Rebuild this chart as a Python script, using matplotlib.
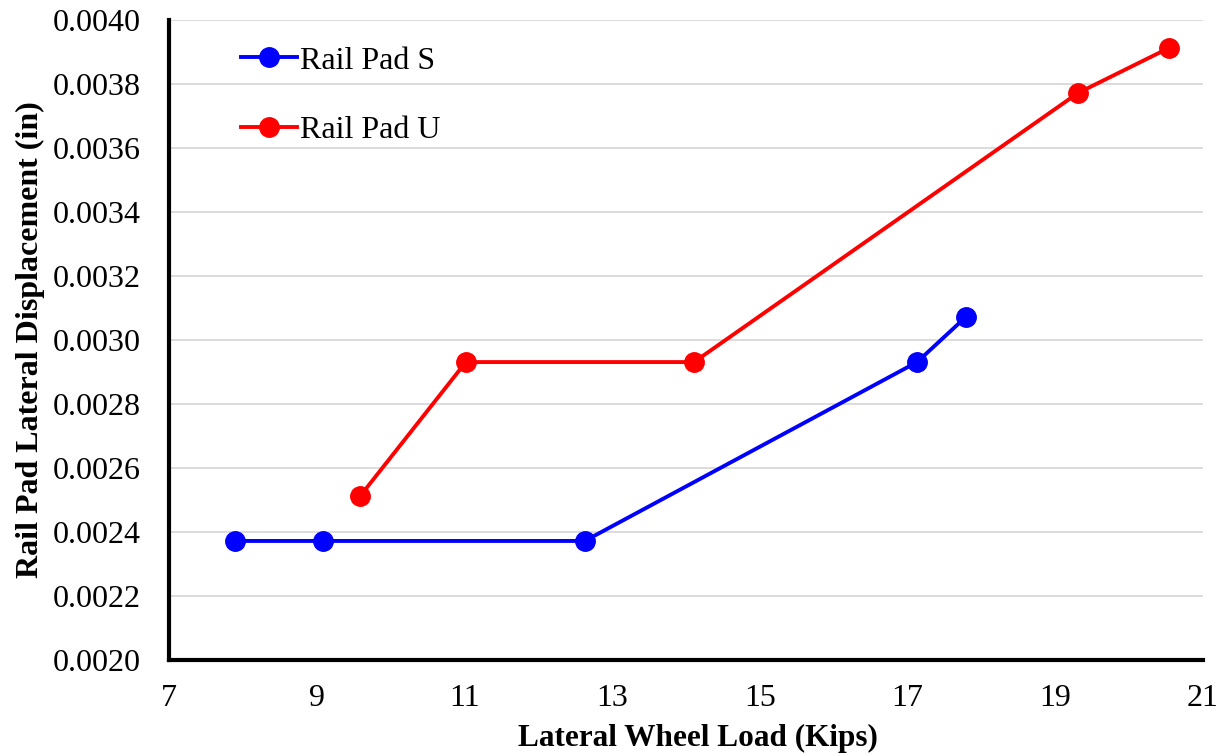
import matplotlib
matplotlib.use("Agg")
import matplotlib.pyplot as plt

s_x = [7.89, 9.09, 12.63, 17.13, 17.79]
s_y = [0.002372, 0.002372, 0.002372, 0.002931, 0.003072]
u_x = [9.59, 11.02, 14.11, 19.31, 20.54]
u_y = [0.0025125, 0.002931, 0.002931, 0.003772, 0.0039125]
xticks = [7, 9, 11, 13, 15, 17, 19, 21]
yticks = [0.0020, 0.0022, 0.0024, 0.0026, 0.0028, 0.0030, 0.0032, 0.0034, 0.0036, 0.0038, 0.0040]

plt.rcParams['font.family'] = ['Liberation Serif', 'DejaVu Serif']

fig = plt.figure(figsize=(12.27, 7.53), dpi=100)
ax = fig.add_axes([0.1377, 0.1235, 0.8427, 0.85])

ax.plot(s_x, s_y, color='#0000ff', lw=2.8, marker='o', ms=14, label='Rail Pad S', clip_on=False, zorder=3)
ax.plot(u_x, u_y, color='#ff0000', lw=2.8, marker='o', ms=14, label='Rail Pad U', clip_on=False, zorder=3)

ax.set_xlim(7, 21)
ax.set_ylim(0.0020, 0.0040)
ax.set_xticks(xticks)
ax.set_yticks(yticks)
ax.set_yticklabels([f"{v:.4f}" for v in yticks])
ax.tick_params(axis='both', labelsize=23, length=0)
ax.tick_params(axis='y', pad=20)
ax.tick_params(axis='x', pad=17)
ax.grid(axis='y', color='#d9d9d9', lw=1.3)
ax.set_axisbelow(True)
for sp in ['top', 'right']:
    ax.spines[sp].set_visible(False)
for sp in ['left', 'bottom']:
    ax.spines[sp].set_linewidth(3)
    ax.spines[sp].set_color('black')

ax.set_xlabel('Lateral Wheel Load (Kips)', fontsize=22.5, fontweight='bold')
ax.xaxis.set_label_coords(0.512, -0.1)
ax.set_ylabel('Rail Pad Lateral Displacement (in)', fontsize=23, fontweight='bold', labelpad=6)

leg = ax.legend(loc='upper left', bbox_to_anchor=(0.042, 1.004), frameon=False, fontsize=23,
                handlelength=1.75, handletextpad=0.1, labelspacing=1.27)

fig.savefig('out.png', dpi=100)
